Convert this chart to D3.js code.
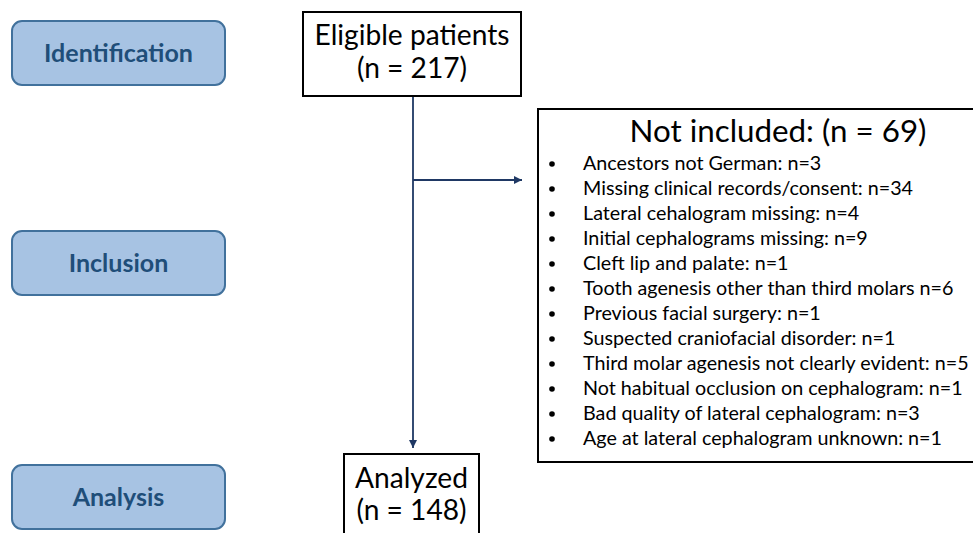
<!DOCTYPE html>
<html><head><meta charset="utf-8">
<script src="https://cdn.jsdelivr.net/npm/d3@7"></script>
<style>body{margin:0;background:#fff}svg{display:block}</style>
</head><body>
<svg id="c" width="973" height="533"></svg>
<script>
// ---- data ----
const stages = ["Identification", "Inclusion", "Analysis"];
const eligibleLabel = "Eligible patients";
const eligibleN = 217;
const excludedLabel = "Not included:";
const excludedN = 69;
const analyzedLabel = "Analyzed";
const analyzedN = 148;
const reasons = [
  "Ancestors not German:",
  "Missing clinical records/consent:",
  "Lateral cehalogram missing:",
  "Initial cephalograms missing:",
  "Cleft lip and palate:",
  "Tooth agenesis other than third molars",
  "Previous facial surgery:",
  "Suspected craniofacial disorder:",
  "Third molar agenesis not clearly evident:",
  "Not habitual occlusion on cephalogram:",
  "Bad quality of lateral cephalogram:",
  "Age at lateral cephalogram unknown:"
];
const reasonCounts = [3, 34, 4, 9, 1, 6, 1, 1, 5, 1, 3, 1];

// ---- drawing ----
const svg = d3.select("#c");
const FONT = "Lato, 'Open Sans', sans-serif";
const INK = "#000";
const NAVY = "#1f3864";

function fit(sel, target) {
  const w = sel.node().getComputedTextLength();
  const fs = parseFloat(sel.attr("font-size"));
  sel.attr("font-size", fs * target / w);
  return fs * target / w;
}

// arrow marker
svg.append("defs").append("marker")
  .attr("id", "ah").attr("viewBox", "0 0 10 10").attr("refX", 10).attr("refY", 5)
  .attr("markerWidth", 9).attr("markerHeight", 8).attr("markerUnits", "userSpaceOnUse")
  .attr("orient", "auto")
  .append("path").attr("d", "M0,0 L10,5 L0,10 Z").attr("fill", NAVY);

// stage boxes (left)
const stageY = d3.scaleOrdinal().domain(stages).range([21, 231, 465]);
const stageG = svg.selectAll("g.stage").data(stages).join("g").attr("class", "stage")
  .attr("transform", d => `translate(12,${stageY(d)})`);
stageG.append("rect").attr("width", 213).attr("height", 64).attr("rx", 10)
  .attr("fill", "#a7c3e3").attr("stroke", "#41719c").attr("stroke-width", 2);
stageG.append("text").attr("x", 106.5).attr("y", 41).attr("text-anchor", "middle")
  .attr("font-family", FONT).attr("font-weight", "bold").attr("font-size", 24)
  .attr("fill", "#1f4e79").text(d => d);
const idText = stageG.select("text").filter(d => d === "Identification");
const stageFs = fit(idText, 149);
stageG.selectAll("text").attr("font-size", stageFs);

// flow lines
const x0 = 413;
svg.append("line").attr("x1", x0).attr("x2", x0).attr("y1", 96).attr("y2", 448)
  .attr("stroke", NAVY).attr("stroke-width", 1.8).attr("marker-end", "url(#ah)");
svg.append("line").attr("x1", x0).attr("x2", 522).attr("y1", 180).attr("y2", 180)
  .attr("stroke", NAVY).attr("stroke-width", 1.8).attr("marker-end", "url(#ah)");

// eligible box
svg.append("rect").attr("x", 303).attr("y", 12).attr("width", 218).attr("height", 84)
  .attr("fill", "#fff").attr("stroke", INK).attr("stroke-width", 2);
const e1 = svg.append("text").attr("x", 412).attr("y", 45).attr("text-anchor", "middle")
  .attr("font-family", FONT).attr("font-size", 26).attr("fill", INK).text(eligibleLabel);
const bigFs = fit(e1, 195);
svg.append("text").attr("x", 412).attr("y", 78).attr("text-anchor", "middle")
  .attr("font-family", FONT).attr("font-size", bigFs).attr("fill", INK).text(`(n = ${eligibleN})`);

// analyzed box
svg.append("rect").attr("x", 344).attr("y", 454).attr("width", 135).attr("height", 100)
  .attr("fill", "#fff").attr("stroke", INK).attr("stroke-width", 2);
svg.append("text").attr("x", 411.5).attr("y", 488).attr("text-anchor", "middle")
  .attr("font-family", FONT).attr("font-size", bigFs).attr("fill", INK).text(analyzedLabel);
svg.append("text").attr("x", 411.5).attr("y", 520).attr("text-anchor", "middle")
  .attr("font-family", FONT).attr("font-size", bigFs).attr("fill", INK).text(`(n = ${analyzedN})`);

// not included box
svg.append("rect").attr("x", 538).attr("y", 109).attr("width", 450).attr("height", 353)
  .attr("fill", "#fff").attr("stroke", INK).attr("stroke-width", 2);
const title = svg.append("text").attr("x", 778).attr("y", 142).attr("text-anchor", "middle")
  .attr("font-family", FONT).attr("font-size", 28).attr("fill", INK)
  .text(`${excludedLabel} (n = ${excludedN})`);
fit(title, 297);

const yItem = d3.scalePoint().domain(d3.range(reasons.length)).range([170, 445]);
const items = svg.selectAll("g.item").data(reasons).join("g").attr("class", "item")
  .attr("transform", (d, i) => `translate(0,${yItem(i)})`);
items.append("circle").attr("cx", 552).attr("cy", -6).attr("r", 2.8).attr("fill", INK);
items.append("text").attr("x", 583).attr("y", 0)
  .attr("font-family", FONT).attr("font-size", 18).attr("fill", INK)
  .text((d, i) => `${d} n=${reasonCounts[i]}`);
const longest = items.select("text").filter((d, i) => i === 8);
const itemFs = fit(longest, 386);
items.selectAll("text").attr("font-size", itemFs);
</script>
</body></html>
